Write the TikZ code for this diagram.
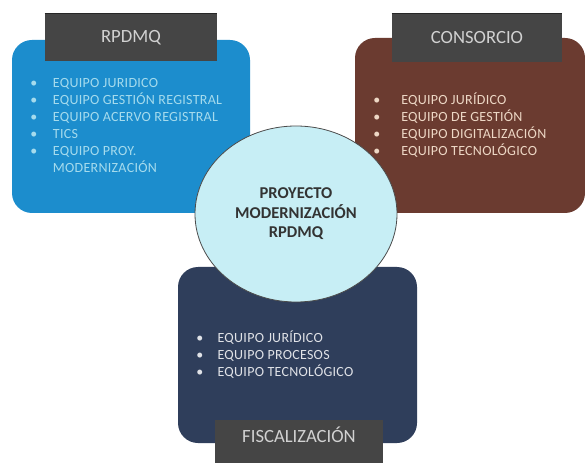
\documentclass[tikz,border=0pt]{standalone}
\usepackage{fontspec}
\setmainfont{Carlito}
\usetikzlibrary{shapes.geometric,positioning}

\definecolor{rpblue}{HTML}{1C8DCD}
\definecolor{rpbrown}{HTML}{6B3B30}
\definecolor{rpnavy}{HTML}{2F3E5B}
\definecolor{rphead}{HTML}{454545}
\definecolor{rpcircle}{HTML}{C7EEF5}

\newcommand{\itm}[2][17pt]{\makebox[#1][l]{\textbullet}#2}

\tikzset{
  panel/.style={draw=none, rounded corners=15pt, inner sep=0pt},
  headbox/.style={fill=rphead, text=black!18, inner sep=0pt, font=\fontsize{14}{16}\selectfont},
  teamlist/.style={anchor=north west, align=left, inner sep=0pt, font=\addfontfeature{LetterSpace=2}\fontsize{10.5}{12.75}\selectfont},
}

\begin{document}
\begin{tikzpicture}[x=0.75pt, y=-0.75pt]
 \useasboundingbox[fill=white] (0,0) rectangle (585,463);

 % team panels
 \node[panel, fill=rpblue, minimum width=178.5pt, minimum height=129.75pt] (rpdmq) at (131,126.5) {};
 \node[panel, fill=rpbrown, minimum width=172.5pt, minimum height=131.25pt] (consorcio) at (470,125.5) {};
 \node[panel, fill=rpnavy, minimum width=179.25pt, minimum height=132pt] (fisc) at (297.5,355) {};

 % headers
 \node[headbox, minimum width=129pt, minimum height=35.25pt] (rpdmqhead) at (131,37.5) {RPDMQ};
 \node[headbox, minimum width=127.5pt, minimum height=36pt] (consorciohead) at (477,38) {CONSORCIO};
 \node[headbox, minimum width=126pt, minimum height=38pt, text height=9.5pt, text depth=14pt] (fischead) at (299,445.3) {FISCALIZACIÓN};
 \draw[black!85, line width=0.8pt] (rpdmqhead.north west) -- (rpdmqhead.north east);
 \draw[black!85, line width=0.8pt] (consorciohead.north west) -- (consorciohead.north east);

 % lists
 \node[teamlist, text=rpcircle!80!rpblue] (rpdmqlist) at (30,78) {\itm{EQUIPO JURIDICO}\\ \itm{EQUIPO GESTIÓN REGISTRAL}\\ \itm{EQUIPO ACERVO REGISTRAL}\\ \itm{TICS}\\ \itm{EQUIPO PROY.}\\ \makebox[17pt]{}MODERNIZACIÓN};
 \node[teamlist, text=orange!15!white!88!rpbrown] (consorciolist) at (373,93) {\itm[21pt]{EQUIPO JURÍDICO}\\ \itm[21pt]{EQUIPO DE GESTIÓN}\\ \itm[21pt]{EQUIPO DIGITALIZACIÓN}\\ \itm[21pt]{EQUIPO TECNOLÓGICO}};
 \node[teamlist, text=white!85!rpnavy] (fisclist) at (196,331) {\itm[16pt]{EQUIPO JURÍDICO}\\ \itm[16pt]{EQUIPO PROCESOS}\\ \itm[16pt]{EQUIPO TECNOLÓGICO}};

 % centre
 \node[ellipse, draw=black!70, line width=0.6pt, fill=rpcircle, minimum width=151.5pt, minimum height=132pt, inner sep=0pt, align=center, text=black!80, font=\bfseries\fontsize{12.4}{14.6}\selectfont] (proyecto) at (296,214) {PROYECTO\\ MODERNIZACIÓN\\ RPDMQ};
\end{tikzpicture}
\end{document}
